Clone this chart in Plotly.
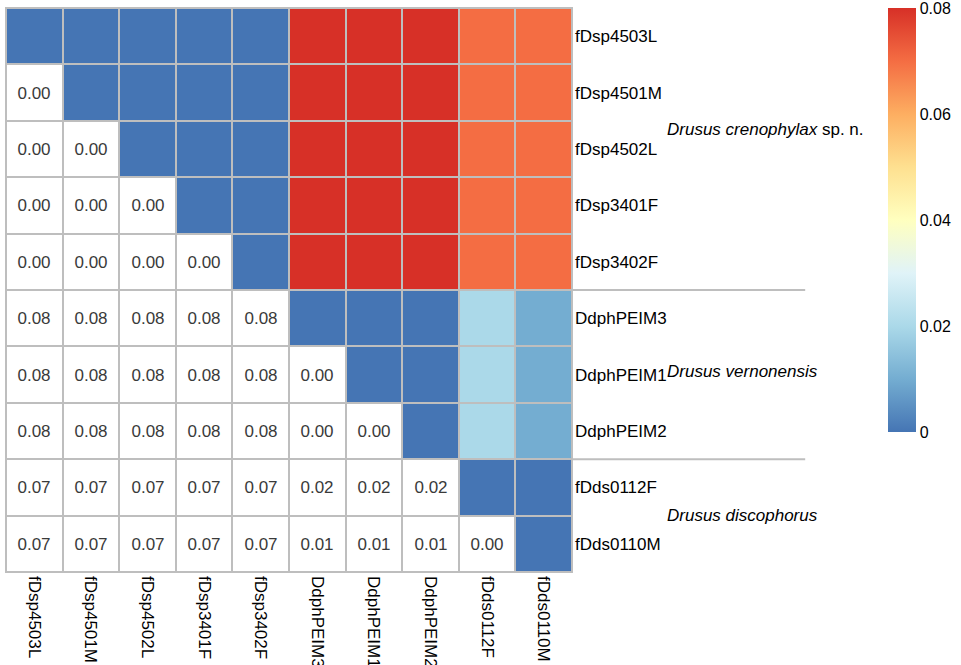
import plotly.graph_objects as go

labels = ["fDsp4503L", "fDsp4501M", "fDsp4502L", "fDsp3401F", "fDsp3402F",
          "DdphPEIM3", "DdphPEIM1", "DdphPEIM2", "fDds0112F", "fDds0110M"]

# Lower triangle of the pairwise distance matrix (row i, columns 0..i-1)
lower_rows = [
    [],
    [0.00],
    [0.00, 0.00],
    [0.00, 0.00, 0.00],
    [0.00, 0.00, 0.00, 0.00],
    [0.08, 0.08, 0.08, 0.08, 0.08],
    [0.08, 0.08, 0.08, 0.08, 0.08, 0.00],
    [0.08, 0.08, 0.08, 0.08, 0.08, 0.00, 0.00],
    [0.07, 0.07, 0.07, 0.07, 0.07, 0.02, 0.02, 0.02],
    [0.07, 0.07, 0.07, 0.07, 0.07, 0.01, 0.01, 0.01, 0.00],
]
diag_value = 0.0

cbar_ticks = [0, 0.02, 0.04, 0.06, 0.08]
cbar_ticktext = ["0", "0.02", "0.04", "0.06", "0.08"]

species = [
    ("<i>Drusus crenophylax</i> sp. n.", 1.164, 0.784),
    ("<i>Drusus vernonensis</i>", 1.164, 0.356),
    ("<i>Drusus discophorus</i>", 1.164, 0.100),
]
group_breaks = [4.5, 7.5]

n = len(labels)
full = [[None] * n for _ in range(n)]
for i in range(n):
    full[i][i] = diag_value
    for j, v in enumerate(lower_rows[i]):
        full[i][j] = v
        full[j][i] = v

upper = [[full[i][j] if j >= i else None for j in range(n)] for i in range(n)]
lower = [[full[i][j] if j < i else None for j in range(n)] for i in range(n)]

rdylbu = ["#4575b4", "#74add1", "#abd9e9", "#e0f3f8", "#ffffbf",
          "#fee090", "#fdae61", "#f46d43", "#d73027"]
cscale = [[k / (len(rdylbu) - 1), c] for k, c in enumerate(rdylbu)]

FONT = "Liberation Sans, Arial, Helvetica, sans-serif"
ZMAX = 0.08

fig = go.Figure()
fig.add_trace(go.Heatmap(
    z=upper, x=list(range(n)), y=list(range(n)),
    colorscale=cscale, zmin=0, zmax=ZMAX, xgap=2, ygap=2,
    hoverongaps=False,
    colorbar=dict(
        x=1.558, xanchor="left", y=1, yanchor="top", len=0.752, lenmode="fraction",
        xpad=0, ypad=0,
        thickness=28, outlinewidth=0, ticks="", ticklabelposition="outside",
        ticklabeloverflow="allow",
        tickvals=[min(t, ZMAX * 0.9999) for t in cbar_ticks], ticktext=cbar_ticktext,
        tickfont=dict(size=16, color="black", family=FONT),
    ),
))
fig.add_trace(go.Heatmap(
    z=lower, x=list(range(n)), y=list(range(n)),
    colorscale=[[0, "white"], [1, "white"]], showscale=False,
    xgap=2, ygap=2, hoverongaps=False,
    texttemplate="%{z:.2f}", textfont=dict(size=17, color="#3a3a3a", family=FONT),
))

shapes = [dict(type="rect", xref="paper", yref="paper", x0=0, x1=1, y0=0, y1=1,
               line=dict(color="#bebebe", width=2), fillcolor="rgba(0,0,0,0)")]
for b in group_breaks:
    shapes.append(dict(type="line", xref="paper", yref="y", x0=1, x1=1.412, y0=b, y1=b,
                       line=dict(color="#bebebe", width=2)))

annotations = [dict(text=t, xref="paper", yref="paper", x=x, y=y, xanchor="left", yanchor="middle",
                    showarrow=False, font=dict(size=17, color="black", family=FONT))
               for t, x, y in species]

fig.update_layout(
    width=961, height=665,
    margin=dict(l=6, r=389, t=8, b=93, autoexpand=False),
    paper_bgcolor="white", plot_bgcolor="#bebebe",
    font=dict(family=FONT, size=17, color="black"),
    shapes=shapes, annotations=annotations,
    xaxis=dict(range=[-0.5, n - 0.5], tickvals=list(range(n)), ticktext=labels, tickangle=90,
               showgrid=False, zeroline=False, ticks="", ticklabelstandoff=3,
               ticklabeloverflow="allow",
               tickfont=dict(size=17, color="black")),
    yaxis=dict(range=[n - 0.5, -0.5], tickvals=list(range(n)), ticktext=labels, side="right",
               showgrid=False, zeroline=False, ticks="", ticklabelstandoff=2,
               tickfont=dict(size=17, color="black")),
)

fig.write_html("out.html", config={"displayModeBar": False},
               post_script="document.body.style.margin='0';document.body.style.overflow='hidden';")
